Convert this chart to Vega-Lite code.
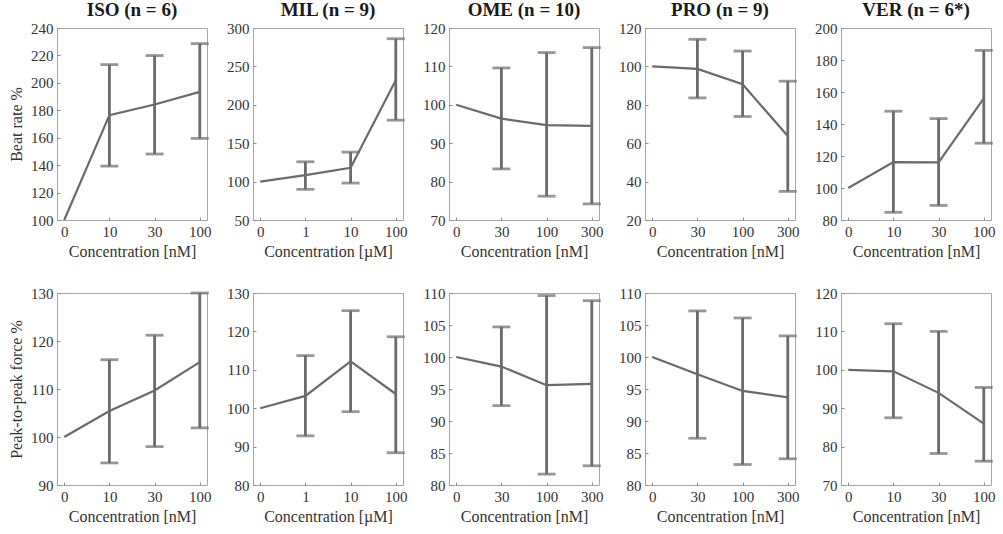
{
"$schema":"https://vega.github.io/schema/vega-lite/v6.json",
"padding":{"left":8,"top":0,"right":4,"bottom":4},
"datasets":{"d":[
{"d":"ISO","m":"b","c":"0","v":100},
{"d":"ISO","m":"b","c":"10","v":176.5,"lo":139.3,"hi":213.3},
{"d":"ISO","m":"b","c":"30","v":184.2,"lo":148.1,"hi":219.9},
{"d":"ISO","m":"b","c":"100","v":193.4,"lo":159.5,"hi":228.6},
{"d":"MIL","m":"b","c":"0","v":100},
{"d":"MIL","m":"b","c":"1","v":108.5,"lo":89.9,"hi":125.8},
{"d":"MIL","m":"b","c":"10","v":118,"lo":98.1,"hi":138.4},
{"d":"MIL","m":"b","c":"100","v":232,"lo":180,"hi":286},
{"d":"OME","m":"b","c":"0","v":100},
{"d":"OME","m":"b","c":"30","v":96.4,"lo":83.3,"hi":109.6},
{"d":"OME","m":"b","c":"100","v":94.7,"lo":76.2,"hi":113.6},
{"d":"OME","m":"b","c":"300","v":94.5,"lo":74.2,"hi":114.9},
{"d":"PRO","m":"b","c":"0","v":100},
{"d":"PRO","m":"b","c":"30","v":98.7,"lo":83.6,"hi":114.1},
{"d":"PRO","m":"b","c":"100","v":90.7,"lo":73.9,"hi":108},
{"d":"PRO","m":"b","c":"300","v":63.7,"lo":34.9,"hi":92.3},
{"d":"VER","m":"b","c":"0","v":100},
{"d":"VER","m":"b","c":"10","v":116.2,"lo":84.8,"hi":148},
{"d":"VER","m":"b","c":"30","v":116,"lo":89.1,"hi":143.4},
{"d":"VER","m":"b","c":"100","v":156,"lo":128,"hi":186},
{"d":"ISO","m":"f","c":"0","v":100},
{"d":"ISO","m":"f","c":"10","v":105.4,"lo":94.6,"hi":116.1},
{"d":"ISO","m":"f","c":"30","v":109.7,"lo":98,"hi":121.2},
{"d":"ISO","m":"f","c":"100","v":115.6,"lo":101.9,"hi":130},
{"d":"MIL","m":"f","c":"0","v":100},
{"d":"MIL","m":"f","c":"1","v":103.2,"lo":92.8,"hi":113.7},
{"d":"MIL","m":"f","c":"10","v":112.2,"lo":99.1,"hi":125.4},
{"d":"MIL","m":"f","c":"100","v":103.7,"lo":88.4,"hi":118.6},
{"d":"OME","m":"f","c":"0","v":100},
{"d":"OME","m":"f","c":"30","v":98.5,"lo":92.4,"hi":104.7},
{"d":"OME","m":"f","c":"100","v":95.6,"lo":81.7,"hi":109.6},
{"d":"OME","m":"f","c":"300","v":95.8,"lo":83,"hi":108.8},
{"d":"PRO","m":"f","c":"0","v":100},
{"d":"PRO","m":"f","c":"30","v":97.3,"lo":87.3,"hi":107.2},
{"d":"PRO","m":"f","c":"100","v":94.7,"lo":83.2,"hi":106.1},
{"d":"PRO","m":"f","c":"300","v":93.7,"lo":84.1,"hi":103.3},
{"d":"VER","m":"f","c":"0","v":100},
{"d":"VER","m":"f","c":"10","v":99.6,"lo":87.5,"hi":112},
{"d":"VER","m":"f","c":"30","v":94,"lo":78.2,"hi":110},
{"d":"VER","m":"f","c":"100","v":86,"lo":76.2,"hi":95.4}
]},
"data":{"name":"d"},
"columns":5,
"spacing":{"row":73,"column":46},
"bounds":"flush",
"concat":[
{"width":150,"height":192,"title":"ISO (n = 6)",
"transform":[{"filter":"datum.d==='ISO'&&datum.m==='b'"}],
"encoding":{"x":{"field":"c","type":"ordinal","sort":["0","10","30","100"],"scale":{"type":"point","padding":0.16},"axis":{"title":"Concentration [nM]"}}},
"layer":[
{"mark":"line","encoding":{"y":{"field":"v","type":"quantitative","scale":{"domain":[100,240],"nice":false,"zero":false},"axis":{"title":"Beat rate %","tickCount":20,"values":[100,120,140,160,180,200,220,240]}}}},
{"transform":[{"filter":"isValid(datum.lo)"}],"mark":"rule","encoding":{"y":{"field":"lo","type":"quantitative"},"y2":{"field":"hi"}}},
{"transform":[{"filter":"isValid(datum.lo)"}],"mark":"tick","encoding":{"y":{"field":"lo","type":"quantitative"}}},
{"transform":[{"filter":"isValid(datum.lo)"}],"mark":"tick","encoding":{"y":{"field":"hi","type":"quantitative"}}}
]},
{"width":150,"height":192,"title":"MIL (n = 9)",
"transform":[{"filter":"datum.d==='MIL'&&datum.m==='b'"}],
"encoding":{"x":{"field":"c","type":"ordinal","sort":["0","1","10","100"],"scale":{"type":"point","padding":0.16},"axis":{"title":"Concentration [µM]"}}},
"layer":[
{"mark":"line","encoding":{"y":{"field":"v","type":"quantitative","scale":{"domain":[50,300],"nice":false,"zero":false},"axis":{"title":null,"tickCount":20,"values":[50,100,150,200,250,300]}}}},
{"transform":[{"filter":"isValid(datum.lo)"}],"mark":"rule","encoding":{"y":{"field":"lo","type":"quantitative"},"y2":{"field":"hi"}}},
{"transform":[{"filter":"isValid(datum.lo)"}],"mark":"tick","encoding":{"y":{"field":"lo","type":"quantitative"}}},
{"transform":[{"filter":"isValid(datum.lo)"}],"mark":"tick","encoding":{"y":{"field":"hi","type":"quantitative"}}}
]},
{"width":150,"height":192,"title":"OME (n = 10)",
"transform":[{"filter":"datum.d==='OME'&&datum.m==='b'"}],
"encoding":{"x":{"field":"c","type":"ordinal","sort":["0","30","100","300"],"scale":{"type":"point","padding":0.16},"axis":{"title":"Concentration [nM]"}}},
"layer":[
{"mark":"line","encoding":{"y":{"field":"v","type":"quantitative","scale":{"domain":[70,120],"nice":false,"zero":false},"axis":{"title":null,"tickCount":20,"values":[70,80,90,100,110,120]}}}},
{"transform":[{"filter":"isValid(datum.lo)"}],"mark":"rule","encoding":{"y":{"field":"lo","type":"quantitative"},"y2":{"field":"hi"}}},
{"transform":[{"filter":"isValid(datum.lo)"}],"mark":"tick","encoding":{"y":{"field":"lo","type":"quantitative"}}},
{"transform":[{"filter":"isValid(datum.lo)"}],"mark":"tick","encoding":{"y":{"field":"hi","type":"quantitative"}}}
]},
{"width":150,"height":192,"title":"PRO (n = 9)",
"transform":[{"filter":"datum.d==='PRO'&&datum.m==='b'"}],
"encoding":{"x":{"field":"c","type":"ordinal","sort":["0","30","100","300"],"scale":{"type":"point","padding":0.16},"axis":{"title":"Concentration [nM]"}}},
"layer":[
{"mark":"line","encoding":{"y":{"field":"v","type":"quantitative","scale":{"domain":[20,120],"nice":false,"zero":false},"axis":{"title":null,"tickCount":20,"values":[20,40,60,80,100,120]}}}},
{"transform":[{"filter":"isValid(datum.lo)"}],"mark":"rule","encoding":{"y":{"field":"lo","type":"quantitative"},"y2":{"field":"hi"}}},
{"transform":[{"filter":"isValid(datum.lo)"}],"mark":"tick","encoding":{"y":{"field":"lo","type":"quantitative"}}},
{"transform":[{"filter":"isValid(datum.lo)"}],"mark":"tick","encoding":{"y":{"field":"hi","type":"quantitative"}}}
]},
{"width":150,"height":192,"title":"VER (n = 6*)",
"transform":[{"filter":"datum.d==='VER'&&datum.m==='b'"}],
"encoding":{"x":{"field":"c","type":"ordinal","sort":["0","10","30","100"],"scale":{"type":"point","padding":0.16},"axis":{"title":"Concentration [nM]"}}},
"layer":[
{"mark":"line","encoding":{"y":{"field":"v","type":"quantitative","scale":{"domain":[80,200],"nice":false,"zero":false},"axis":{"title":null,"tickCount":20,"values":[80,100,120,140,160,180,200]}}}},
{"transform":[{"filter":"isValid(datum.lo)"}],"mark":"rule","encoding":{"y":{"field":"lo","type":"quantitative"},"y2":{"field":"hi"}}},
{"transform":[{"filter":"isValid(datum.lo)"}],"mark":"tick","encoding":{"y":{"field":"lo","type":"quantitative"}}},
{"transform":[{"filter":"isValid(datum.lo)"}],"mark":"tick","encoding":{"y":{"field":"hi","type":"quantitative"}}}
]},
{"width":150,"height":192,
"transform":[{"filter":"datum.d==='ISO'&&datum.m==='f'"}],
"encoding":{"x":{"field":"c","type":"ordinal","sort":["0","10","30","100"],"scale":{"type":"point","padding":0.16},"axis":{"title":"Concentration [nM]"}}},
"layer":[
{"mark":"line","encoding":{"y":{"field":"v","type":"quantitative","scale":{"domain":[90,130],"nice":false,"zero":false},"axis":{"title":"Peak-to-peak force %","tickCount":20,"values":[90,100,110,120,130]}}}},
{"transform":[{"filter":"isValid(datum.lo)"}],"mark":"rule","encoding":{"y":{"field":"lo","type":"quantitative"},"y2":{"field":"hi"}}},
{"transform":[{"filter":"isValid(datum.lo)"}],"mark":"tick","encoding":{"y":{"field":"lo","type":"quantitative"}}},
{"transform":[{"filter":"isValid(datum.lo)"}],"mark":"tick","encoding":{"y":{"field":"hi","type":"quantitative"}}}
]},
{"width":150,"height":192,
"transform":[{"filter":"datum.d==='MIL'&&datum.m==='f'"}],
"encoding":{"x":{"field":"c","type":"ordinal","sort":["0","1","10","100"],"scale":{"type":"point","padding":0.16},"axis":{"title":"Concentration [µM]"}}},
"layer":[
{"mark":"line","encoding":{"y":{"field":"v","type":"quantitative","scale":{"domain":[80,130],"nice":false,"zero":false},"axis":{"title":null,"tickCount":20,"values":[80,90,100,110,120,130]}}}},
{"transform":[{"filter":"isValid(datum.lo)"}],"mark":"rule","encoding":{"y":{"field":"lo","type":"quantitative"},"y2":{"field":"hi"}}},
{"transform":[{"filter":"isValid(datum.lo)"}],"mark":"tick","encoding":{"y":{"field":"lo","type":"quantitative"}}},
{"transform":[{"filter":"isValid(datum.lo)"}],"mark":"tick","encoding":{"y":{"field":"hi","type":"quantitative"}}}
]},
{"width":150,"height":192,
"transform":[{"filter":"datum.d==='OME'&&datum.m==='f'"}],
"encoding":{"x":{"field":"c","type":"ordinal","sort":["0","30","100","300"],"scale":{"type":"point","padding":0.16},"axis":{"title":"Concentration [nM]"}}},
"layer":[
{"mark":"line","encoding":{"y":{"field":"v","type":"quantitative","scale":{"domain":[80,110],"nice":false,"zero":false},"axis":{"title":null,"tickCount":20,"values":[80,85,90,95,100,105,110]}}}},
{"transform":[{"filter":"isValid(datum.lo)"}],"mark":"rule","encoding":{"y":{"field":"lo","type":"quantitative"},"y2":{"field":"hi"}}},
{"transform":[{"filter":"isValid(datum.lo)"}],"mark":"tick","encoding":{"y":{"field":"lo","type":"quantitative"}}},
{"transform":[{"filter":"isValid(datum.lo)"}],"mark":"tick","encoding":{"y":{"field":"hi","type":"quantitative"}}}
]},
{"width":150,"height":192,
"transform":[{"filter":"datum.d==='PRO'&&datum.m==='f'"}],
"encoding":{"x":{"field":"c","type":"ordinal","sort":["0","30","100","300"],"scale":{"type":"point","padding":0.16},"axis":{"title":"Concentration [nM]"}}},
"layer":[
{"mark":"line","encoding":{"y":{"field":"v","type":"quantitative","scale":{"domain":[80,110],"nice":false,"zero":false},"axis":{"title":null,"tickCount":20,"values":[80,85,90,95,100,105,110]}}}},
{"transform":[{"filter":"isValid(datum.lo)"}],"mark":"rule","encoding":{"y":{"field":"lo","type":"quantitative"},"y2":{"field":"hi"}}},
{"transform":[{"filter":"isValid(datum.lo)"}],"mark":"tick","encoding":{"y":{"field":"lo","type":"quantitative"}}},
{"transform":[{"filter":"isValid(datum.lo)"}],"mark":"tick","encoding":{"y":{"field":"hi","type":"quantitative"}}}
]},
{"width":150,"height":192,
"transform":[{"filter":"datum.d==='VER'&&datum.m==='f'"}],
"encoding":{"x":{"field":"c","type":"ordinal","sort":["0","10","30","100"],"scale":{"type":"point","padding":0.16},"axis":{"title":"Concentration [nM]"}}},
"layer":[
{"mark":"line","encoding":{"y":{"field":"v","type":"quantitative","scale":{"domain":[70,120],"nice":false,"zero":false},"axis":{"title":null,"tickCount":20,"values":[70,80,90,100,110,120]}}}},
{"transform":[{"filter":"isValid(datum.lo)"}],"mark":"rule","encoding":{"y":{"field":"lo","type":"quantitative"},"y2":{"field":"hi"}}},
{"transform":[{"filter":"isValid(datum.lo)"}],"mark":"tick","encoding":{"y":{"field":"lo","type":"quantitative"}}},
{"transform":[{"filter":"isValid(datum.lo)"}],"mark":"tick","encoding":{"y":{"field":"hi","type":"quantitative"}}}
]}
],
"config":{
"background":"#ffffff",
"view":{"stroke":"#a6a6a6","strokeWidth":1},
"font":"Liberation Serif",
"title":{"font":"Liberation Serif","fontSize":19,"fontWeight":"bold","color":"#1a1a1a","offset":1},
"axis":{"labelFont":"Liberation Serif","labelFontSize":15,"labelColor":"#333333","labelOverlap":false,"titleFont":"Liberation Serif","titleFontSize":16,"titleFontWeight":"normal","titleColor":"#333333","grid":false,"domain":false,"tickColor":"#8c8c8c","tickSize":-3,"labelPadding":7},
"axisX":{"labelAngle":0,"titlePadding":4},
"axisY":{"titlePadding":6},
"line":{"color":"#6b6b6b","strokeWidth":2.2},
"rule":{"color":"#6b6b6b","strokeWidth":2.8},
"tick":{"color":"#6b6b6b","thickness":2.8,"bandSize":8}
}
}
